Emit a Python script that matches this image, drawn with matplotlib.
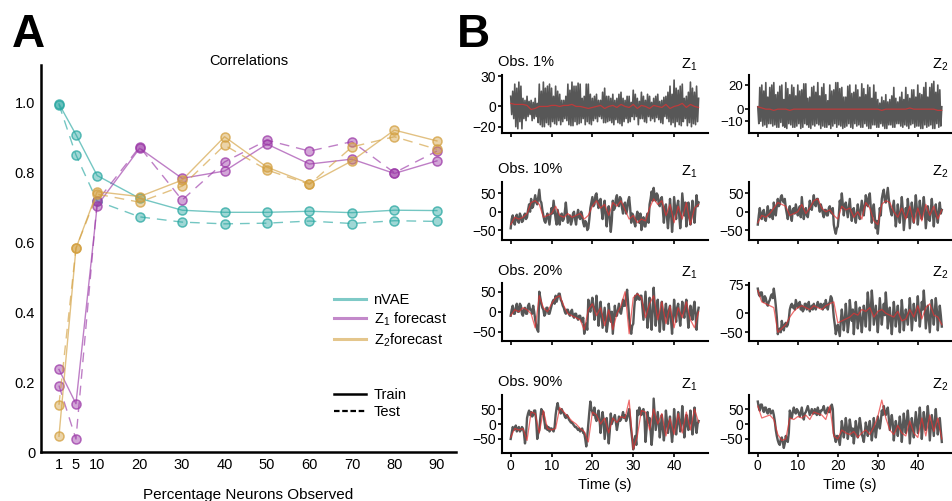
import numpy as np
import matplotlib
matplotlib.use("Agg")
import matplotlib.pyplot as plt
from matplotlib.lines import Line2D
from matplotlib.colors import to_rgba

plt.rcParams['font.family'] = ['Liberation Sans', 'DejaVu Sans']
plt.rcParams['mathtext.fontset'] = 'custom'
plt.rcParams['mathtext.rm'] = 'Liberation Sans'
plt.rcParams['mathtext.it'] = 'Liberation Sans:italic'

# ---- panel A data ----
pct = [1, 5, 10, 20, 30, 40, 50, 60, 70, 80, 90]
nvae_train = [0.995, 0.907, 0.790, 0.725, 0.691, 0.685, 0.685, 0.688, 0.684, 0.691, 0.690]
nvae_test = [0.993, 0.849, 0.717, 0.672, 0.657, 0.652, 0.654, 0.660, 0.653, 0.661, 0.659]
z1_train = [0.236, 0.138, 0.704, 0.868, 0.782, 0.803, 0.880, 0.823, 0.837, 0.796, 0.832]
z1_test = [0.190, 0.037, 0.717, 0.872, 0.720, 0.829, 0.891, 0.860, 0.887, 0.798, 0.860]
z2_train = [0.045, 0.582, 0.744, 0.730, 0.777, 0.901, 0.814, 0.767, 0.832, 0.920, 0.889]
z2_test = [0.135, 0.582, 0.737, 0.714, 0.760, 0.877, 0.806, 0.765, 0.872, 0.901, 0.865]

# ---- panel B data (gray = observed, every 0.25 s; red = forecast, every 1 s) ----
obs_labels = ["Obs. 1%", "Obs. 10%", "Obs. 20%", "Obs. 90%"]

gray_z1_obs1 = [10, -8, 15, -12, 22, -20, 18, -22, 24, -15, 20, -22, 8, -12, 6, -14, 10, -10, 5, -8,
                6, -14, 4, -12, 8, -10, 3, -16, 22, -18, 15, -20, 24, -20, 18, -16, 20, -18, 22, -20,
                18, -15, 10, -17, 20, -18, 15, -14, 12, -18, 6, -15, 6, -12, 10, -14, 22, -18, 16, -19,
                24, -19, 20, -15, 20, -18, 23, -17, 22, -16, 8, -12, 10, -18, 22, -15, 22, -17, 12, -18,
                8, -14, 10, -12, 12, -15, 6, -10, 6, -12, 14, -16, 18, -16, 10, -15, 10, -14, 8, -16,
                12, -18, 6, -13, 8, -16, 12, -17, 14, -19, 8, -15, 6, -12, 10, -16, 10, -15, 4, -10,
                16, -13, 12, -10, 8, -18, 5, -12, 14, -12, 10, -15, 6, -16, 12, -10, 10, -14, 4, -12,
                8, -15, 10, -11, 12, -13, 5, -16, 6, -17, 9, -10, 10, -12, 14, -15, 20, -18, 12, -16,
                26, -20, 18, -15, 16, -18, 20, -19, 22, -15, 8, -12, 10, -19, 14, -16, 24, -20, 18, -17,
                14, -18, 20, -15, 8]
red_z1_obs1 = [3, 2, 2, 2, 1, -3, -2, 0, 0, 0, 1, 1, 0, 1, 1, 2, 0, 0, -1, -2, -1, 0, 1, -2,
               0, 1, -1, 2, 0, -1, 2, -2, 1, 0, -2, 1, 0, -1, 2, -2, 0, 1, 3, -1, 2, 0, -1]
gray_z2_obs1 = [2, -12, 18, -10, 20, -14, 15, -13, 22, -15, 10, -12, 18, -12, 20, -14, 22, -13, 12, -15,
                14, -15, 19, -11, 20, -14, 8, -15, 22, -16, 17, -12, 12, -13, 20, -15, 18, -15, 11, -14,
                20, -12, 15, -16, 16, -15, 21, -12, 21, -13, 9, -15, 10, -16, 18, -13, 19, -14, 14, -12,
                22, -13, 11, -16, 18, -14, 21, -15, 12, -15, 7, -13, 20, -16, 15, -14, 16, -12, 22, -15,
                22, -13, 17, -14, 18, -16, 10, -15, 10, -14, 19, -12, 20, -15, 13, -16, 14, -12, 20, -14,
                16, -13, 10, -15, 21, -15, 17, -12, 12, -14, 20, -16, 18, -16, 9, -13, 20, -13, 14, -15,
                8, -15, 5, -12, 10, -14, 7, -16, 12, -16, 6, -13, 8, -13, 11, -15, 18, -15, 9, -12,
                6, -12, 10, -14, 14, -15, 8, -13, 18, -14, 12, -16, 9, -13, 16, -12, 16, -15, 10, -14,
                20, -14, 13, -16, 12, -16, 18, -13, 22, -15, 10, -14, 18, -13, 21, -16, 23, -16, 14, -12,
                20, -15, 16, -14, 2]
red_z2_obs1 = [2, 1, 0, 0, -1, 0, 0, 0, -1, 0, 0, 0, 0, 0, 0, 0, 0, 0, 0, 0, 0, 0, 0, 0,
               0, 0, 0, 0, 0, 0, 0, -1, 0, 0, 0, 0, 0, 0, 1, 0, 0, 0, 0, 0, 0, -1, -1]

gray_z1_obs10 = [-45, -20, -10, -30, -35, -15, -8, -25, -30, -5, -12, -28, -25, -10, -5, -20, -15, 5, 20, 0,
                 35, 10, 15, 30, 45, 25, 20, 40, 60, 30, 25, 5, -10, -25, -30, -15, -5, -20, -35, -10,
                 10, -5, 30, 5, -20, -35, 5, -15, -35, -10, -5, -25, -20, 0, 25, -5, -30, -15, -10, -35,
                 -25, -5, 0, -20, -35, -10, 5, -15, -20, 0, -10, -30, -40, -25, -30, -50, -45, -20, 10, 25,
                 40, 15, 20, 45, 50, 25, 10, 30, 35, 5, -20, 10, 30, -10, -40, 0, 15, -20, -55, -25,
                 30, 5, 10, 35, 45, 20, 15, 40, 35, 10, -5, 20, 25, -5, 5, 30, 40, 10, -30, -5,
                 -10, -30, -40, -15, 0, -20, -30, -5, -50, -25, -15, -40, -40, -15, -5, -30, 20, 35, 55, 30,
                 65, 40, 30, 50, 45, 20, 15, 35, 40, 5, -30, 10, 20, -15, -45, -10, 35, 0, -55, -20,
                 40, 10, -20, 15, 30, -10, -45, -15, 50, 20, -10, 25, -40, -10, 25, -15, -35, 0, 30, -5,
                 -30, 10, 45, 15, 25]
red_z1_obs10 = [-35, -15, -20, -15, -5, 25, 30, 20, -15, -10, -5, 15, -10, -15, -5, -15,
                -10, -5, -20, -10, 15, 30, 10, 20, -10, 25, 15, 30, 5, -20, -10, -30,
                -20, -25, 10, 35, 20, 30, -10, 20, -30, 15, -20, 25, -35, 10, 20]
gray_z2_obs10 = [-35, -10, 10, -15, -20, 0, 5, -20, -25, -5, 15, -10, -15, 5, 0, -20, 25, 5, -10, 15,
                 35, 15, 20, 40, 45, 30, 25, 35, 10, -5, -20, 0, 15, -10, -25, 5, 10, -5, 20, 5,
                 -10, 5, 15, -15, 40, 10, -20, 0, 10, -10, -15, 5, 30, 10, 5, 25, 45, 20, 15, 35,
                 35, 15, 0, 20, 10, -5, -15, 5, 5, -10, -10, 10, 15, 0, -5, 10, -35, -50, -60, -45,
                 -40, -10, 30, 10, 50, 20, -10, 15, 25, 5, -15, 10, 35, 0, -25, 5, 10, -15, -30, -5,
                 20, -5, -20, 5, 30, 10, -10, 15, 45, 25, 15, 40, 50, 10, -30, 0, 20, -15, -45, -25,
                 -60, -30, 10, -10, 35, 50, 60, 30, 25, 45, 65, 35, 15, 0, -10, 10, 30, -5, -40, -15,
                 20, -10, -30, 0, 40, 5, -50, -20, 10, -15, 35, 5, -45, -10, 25, -5, -30, 5, 45, 10,
                 -35, -5, 30, 0, -20, 10, 40, 5, -45, -15, 15, -20, -25, 5, 35, 0, -40, -5, 20, -10,
                 -30, 0, 25, -5, 5]
red_z2_obs10 = [-30, -10, -15, -5, 10, 25, 20, 15, -10, -5, 0, 20, -5, 10, 30, 35, 10, 0,
                5, -10, -20, 15, 5, 10, -15, 0, -20, 25, 10, -25, -35, 20, 30, 25, 0, -15,
                10, -20, 15, -30, 10, -25, 20, -10, 15, -20, 5]

gray_z1_obs20 = [-10, 5, 15, -5, -5, 10, 20, 0, 0, 20, 15, -5, -10, 5, 10, -5, -5, 15, 20, 5,
                 5, -5, 15, 0, -20, -35, -45, -50, 50, 35, 20, 10, 5, -10, -5, 10, 10, -5, -5, 5,
                 15, 25, 30, 20, 40, 25, 35, 45, 45, 30, 25, 15, 10, 0, -5, 5, 5, -5, -10, 0,
                 5, -10, -15, -5, -5, -15, -20, -10, -10, -20, -25, -15, -55, -40, -30, -45, 30, 10, 0, 20,
                 35, 10, -20, 5, 40, 5, -35, -10, 25, -5, -40, -15, 10, -20, -50, -30, 20, -5, -25, 0,
                 -55, -20, 15, -10, -10, 5, 20, 0, -5, 10, 30, 15, 15, 40, 55, 20, -15, -40, -55, -35,
                 -30, 10, 40, 30, 45, 35, 30, 40, 40, 10, -20, 15, 50, 5, -40, -5, 35, -10, -45, 0,
                 60, 15, -35, 5, 30, -15, -50, -10, 25, -15, -45, 0, 20, -10, -30, 5, 15, -20, -55, -15,
                 30, 0, -25, 10, 20, -10, -35, -5, 25, 0, -15, 15, 30, -5, -40, -10, 15, -5, -20, 10,
                 25, -10, -45, -5, 10]
red_z1_obs20 = [-10, 5, 0, 10, 5, -5, -40, 40, 10, 0, 20, 35, 40, 15, -5, -10, -15, -20,
                -45, 5, 20, -10, 10, -35, 5, -45, -5, 15, 50, -55, 35, 45, 35, -15, 20, 40,
                -20, 25, -30, 15, -40, 10, -15, 25, -20, -40, 0]
gray_z2_obs20 = [65, 50, 45, 55, 55, 35, 30, 45, 40, 25, 20, 30, 35, 45, 50, 40, 65, 45, 20, -10,
                 -55, -45, -40, -50, -20, -35, -45, -30, -25, -35, -30, -15, 10, 20, 25, 15, 20, 10, 35, 25,
                 15, 25, 30, 10, 20, 5, 10, 25, 25, 10, 15, 30, 5, 15, 20, 10, 25, 15, 10, 20,
                 30, 20, 15, 25, 20, 10, 25, 15, 35, 20, 10, 25, 30, 45, 40, 20, -10, -30, -55, -40,
                 -30, -45, -60, -20, 10, -15, -45, -20, 25, -10, -50, -25, 35, 5, -20, 10, -55, -15, 30, 0,
                 -40, -10, 15, -20, -50, -15, 20, -5, -35, 10, 55, 20, -45, 5, 60, 25, -30, -5, 20, -15,
                 -50, -10, 40, 5, -30, 0, 25, -5, 55, 15, -40, -10, 15, -20, -55, -15, 30, 0, -35, -5,
                 20, -15, -50, -10, 35, 0, -45, -15, 10, -10, -30, 5, 40, 5, -45, -10, 25, -5, -20, 10,
                 45, 5, -35, -5, 30, 10, 60, 20, -40, -10, 20, -15, -50, -5, 35, 0, -30, 5, 40, 10,
                 -45, -10, 20, -5, -35]
red_z2_obs20 = [60, 30, 25, 20, 15, -50, -40, -30, -10, 5, 15, 20, 15, 10, 20, 15, 10, 20,
                25, 30, -25, -20, -15, -10, 0, -5, 10, 5, 15, -10, 5, 10, 0, -5, -10, 5,
                -20, -15, 10, -10, 20, -15, 15, 25, -5, -10, -30]

gray_z1_obs90 = [-50, -30, -10, -20, -15, -5, -25, -15, -10, -25, -20, -10, -15, -30, -65, -40, 20, 35, 45, 30,
                 40, 25, 30, 45, 45, 10, -50, -30, -20, 20, 50, 35, 40, 10, -15, -5, -20, -10, -25, -15,
                 -15, -20, -25, -10, 30, 55, 70, 50, 45, 35, 50, 40, 35, 25, 20, 30, 25, 15, 10, 5,
                 5, 0, -5, -10, -10, -15, -20, -15, -25, -20, -15, -30, -30, -50, -75, -40, 0, 40, 75, 50,
                 40, 30, 55, 20, 10, 30, 45, 15, -30, 5, 40, 10, -50, -15, 20, -20, -65, -25, 35, 0,
                 10, 20, 30, 5, -20, 0, 25, 10, 15, 25, 40, 20, 30, 10, 20, 35, 50, 15, -20, -50,
                 -85, -60, -40, -70, 45, 30, 55, 40, 30, 45, 50, 20, -60, -20, 40, 5, 20, -25, -70, -30,
                 85, 30, -20, 10, 40, 0, -45, -10, 30, -15, -55, -20, 45, 10, -30, 0, 25, -20, -60, -25,
                 50, 5, -35, 0, 40, 10, -25, 5, 60, 15, -45, -10, 30, 0, -20, 10, 45, 5, -35, -5,
                 55, 10, -30, 0, 10]
red_z1_obs90 = [-45, -15, -20, -15, -55, 40, 35, -30, 45, -15, -20, -15, 55, 40, 25, 10,
                0, -15, -25, -60, 40, 30, 0, 20, -30, 20, 5, 25, 20, 80, -85, -40, 45, 40,
                -20, 50, 0, 35, -40, 20, -35, 35, -30, 40, -20, 50, 5]
gray_z2_obs90 = [75, 55, 45, 65, 65, 50, 40, 55, 55, 40, 35, 50, 50, 35, 40, 45, 30, 10, -20, -40,
                 -55, -65, -70, -50, -45, -60, -80, -65, -40, -55, -60, -30, 45, 30, 20, 40, 55, 40, 35, 50,
                 45, 35, 25, 40, 55, 30, 15, 35, 40, 50, 60, 45, 30, 40, 50, 35, 35, 50, 45, 30,
                 55, 40, 30, 45, 45, 50, 60, 40, 35, 45, 55, 40, 40, 55, 65, 50, -30, -45, -60, -40,
                 -40, -55, -70, -35, 10, -15, -45, -20, 20, -10, -50, -25, 15, -10, -40, -15, -65, -30, 10, -20,
                 -45, -10, 20, -5, -35, -45, -60, -30, 5, -15, -40, -10, 10, -20, -55, -25, 20, -10, -45, -15,
                 25, 5, -15, 10, 45, 30, 60, 40, 30, 45, 55, 20, -20, 5, 30, 0, -55, -20, 10, -15,
                 -40, -10, 25, -5, -60, -15, 35, 0, -30, 10, 45, 5, -65, -20, 20, -10, -45, 0, 40, 5,
                 -30, 15, 55, 10, -50, -5, 40, 0, -20, 20, 60, 15, -55, -10, 30, -5, -40, 10, 50, 0,
                 -35, -5, 20, -20, -60]
red_z2_obs90 = [60, 20, 25, 30, 15, -35, -55, -50, 20, 15, 25, 20, 30, 15, 40, 35, 30, 15,
                60, -40, -50, -20, -30, -35, -25, -45, -30, -20, -35, -10, 25, 80, 20, -20,
                -35, -5, -30, -40, 10, -30, -45, 20, -40, 30, -25, 20, -50]

gray_rows = [(gray_z1_obs1, gray_z2_obs1), (gray_z1_obs10, gray_z2_obs10),
             (gray_z1_obs20, gray_z2_obs20), (gray_z1_obs90, gray_z2_obs90)]
red_rows = [(red_z1_obs1, red_z2_obs1), (red_z1_obs10, red_z2_obs10),
            (red_z1_obs20, red_z2_obs20), (red_z1_obs90, red_z2_obs90)]

yticks_rows = [([30, 0, -20], [20, 0, -10]), ([50, 0, -50], [50, 0, -50]),
               ([50, 0, -50], [75, 0, -50]), ([50, 0, -50], [50, 0, -50])]
ylims_rows = [((-26.5, 31), (-20, 28.3)), ((-77, 81), (-77, 81)),
              ((-73, 71), (-73, 79)), ((-98, 97), (-98, 97))]

teal = '#2aa8a2'
purple = '#9c3aa8'
gold = '#d3a040'

W, H = 953, 501
fig = plt.figure(figsize=(W / 100, H / 100), dpi=100)

def px_axes(x0, y0, x1, y1):
    # pixel box (left, top, right, bottom) -> figure axes
    return fig.add_axes([x0 / W, 1 - y1 / H, (x1 - x0) / W, (y1 - y0) / H])

# ---------------- panel A ----------------
ax = px_axes(40.7, 65, 456, 452)
series = [(nvae_train, nvae_test, teal), (z1_train, z1_test, purple), (z2_train, z2_test, gold)]
for tr, te, c in series:
    kw = dict(marker='o', ms=6.5, mew=1.1, mec=to_rgba(c, 0.75), mfc=to_rgba(c, 0.45))
    ax.plot(pct, tr, color=to_rgba(c, 0.65), lw=1.0, **kw)
    ax.plot(pct, te, color=to_rgba(c, 0.65), lw=1.0, ls=(0, (7, 5)), **kw)
ax.set_xlim(-3.3, 94.5)
ax.set_ylim(0, 1.106)
ax.set_xticks(pct)
ax.set_yticks([0, 0.2, 0.4, 0.6, 0.8, 1.0])
ax.set_yticklabels(["0", "0.2", "0.4", "0.6", "0.8", "1.0"])
ax.tick_params(labelsize=10.5, length=0, pad=4)
for s in ['top', 'right']:
    ax.spines[s].set_visible(False)
for s in ['left', 'bottom']:
    ax.spines[s].set_linewidth(1.8)
ax.text(0.5, 1.01, "Correlations", transform=ax.transAxes, ha='center', va='center', fontsize=10.5)
ax.set_xlabel("Percentage Neurons Observed", fontsize=11, labelpad=12)

h1 = [Line2D([], [], color=teal, lw=2.2, alpha=0.6),
      Line2D([], [], color=purple, lw=2.2, alpha=0.6),
      Line2D([], [], color=gold, lw=2.2, alpha=0.6)]
leg1 = ax.legend(h1, ["nVAE", r"Z$_1$ forecast", r"Z$_2$forecast"], frameon=False,
                 fontsize=10.5, handlelength=2.15, handletextpad=0.55, labelspacing=0.25,
                 loc='upper left', bbox_to_anchor=(0.675, 0.445))
ax.add_artist(leg1)
h2 = [Line2D([], [], color='k', lw=1.8), Line2D([], [], color='k', lw=1.6, ls=(0, (2.5, 1.2)))]
ax.legend(h2, ["Train", "Test"], frameon=False, fontsize=10.5, handlelength=2.15,
          handletextpad=0.55, labelspacing=0.2, loc='upper left', bbox_to_anchor=(0.675, 0.199))

fig.text(12 / W, 1 - 47 / H, "A", fontsize=33, fontweight='bold')
fig.text(457 / W, 1 - 47 / H, "B", fontsize=33, fontweight='bold')

# ---------------- panel B ----------------
row_boxes = [(75, 133.3), (182, 240), (283.3, 341), (395, 453.3)]
col_boxes = [(501.7, 708), (749, 951)]

for r, (y0, y1) in enumerate(row_boxes):
    for c, (x0, x1) in enumerate(col_boxes):
        bx = px_axes(x0, y0, x1, y1)
        g = gray_rows[r][c]
        rd = red_rows[r][c]
        bx.plot(np.arange(len(g)) * 0.25, g, color='#575757', lw=1.2 if r == 0 else 1.7)
        bx.plot(np.arange(len(rd)) * 1.0, rd, color='#e83030', lw=0.9, alpha=0.7)
        bx.set_xlim(-2.2, 48.3)
        bx.set_ylim(*ylims_rows[r][c])
        bx.set_yticks(yticks_rows[r][c])
        bx.set_xticks([0, 10, 20, 30, 40])
        fs = 9.5 if (r == 0 and c == 1) else 10
        bx.tick_params(labelsize=fs, length=3, width=1.2, pad=1)
        if r < 3:
            bx.set_xticklabels([])
        else:
            bx.set_xlabel("Time (s)", fontsize=10.5, labelpad=4)
        for s in ['top', 'right']:
            bx.spines[s].set_visible(False)
        for s in ['left', 'bottom']:
            bx.spines[s].set_linewidth(1.5)
        bx.text(0.95 if c == 0 else 0.985, 1.04, r"Z$_{%d}$" % (c + 1), transform=bx.transAxes,
                ha='right', va='bottom', fontsize=10.5)
        if c == 0:
            bx.text(-0.02, 1.1, obs_labels[r], transform=bx.transAxes,
                    ha='left', va='bottom', fontsize=10.5)

fig.savefig("out.png", dpi=100)
